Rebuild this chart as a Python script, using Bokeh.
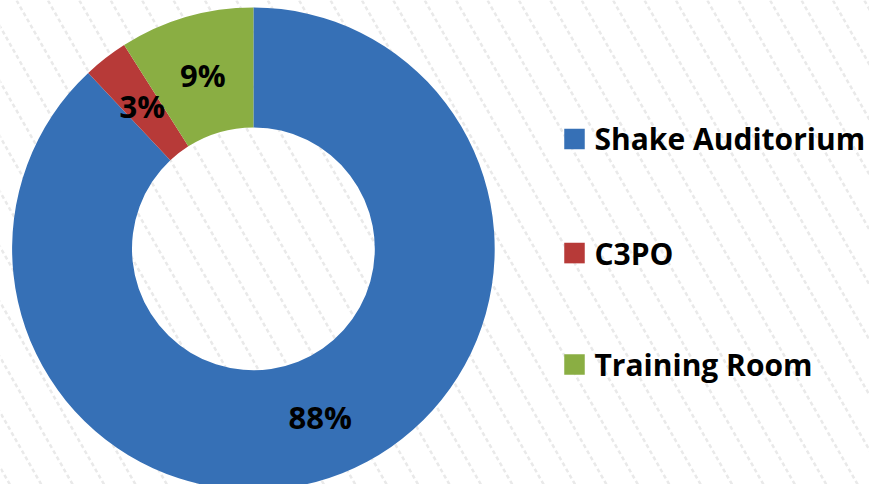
import numpy as np
from bokeh.plotting import figure
from bokeh.models import Range1d, ColumnDataSource
from bokeh.core.properties import value
from bokeh.embed import file_html
from bokeh.resources import INLINE

# ---- data ----
categories = ["Shake Auditorium", "C3PO", "Training Room"]
shares = [88, 3, 9]
labels = ["88%", "3%", "9%"]
colors = ["#3670b6", "#b73a38", "#8aae43"]

W, H = 869, 484
p = figure(width=W, height=H, output_backend="svg", toolbar_location=None,
           x_range=Range1d(0, W), y_range=Range1d(0, H), min_border=0)
p.axis.visible = False
p.grid.visible = False
p.outline_line_color = None
p.background_fill_color = "white"
p.border_fill_color = "white"

# ---- background stripes (decoration) ----
slope = 0.57
xs, ys = [], []
for x0 in np.arange(518.5 - 31.4 * 30, W + 32, 31.4):
    xs.append([x0, x0 + slope * H])
    ys.append([H, 0])
p.multi_line(xs, ys, line_color="#e9e9e9", line_width=2.5, line_dash="4 3")

# ---- donut ----
cx, cy = 252.9, 235.7
r_out, r_in = 241.3, 121.4
frac = np.array(shares, dtype=float) / sum(shares)
cum = np.concatenate([[0], np.cumsum(frac)])
ends = np.pi / 2 - 2 * np.pi * cum[:-1]
starts = np.pi / 2 - 2 * np.pi * cum[1:]
src = ColumnDataSource(dict(start=starts, end=ends, color=colors))
p.annular_wedge(x=cx, y=cy, inner_radius=r_in, outer_radius=r_out,
                start_angle="start", end_angle="end", fill_color="color",
                line_color=None, source=src)

mid = (starts + ends) / 2
r_mid = (r_in + r_out) / 2
lx = cx + r_mid * np.cos(mid)
ly = cy + r_mid * np.sin(mid)
p.text(x=lx, y=ly, text=labels, text_align="center", text_baseline="middle",
       text_font=value("Open Sans"), text_font_style="bold",
       text_font_size="31px", text_color="black")

# ---- legend (manual) ----
leg_y = [345.6, 231.4, 120]
p.scatter(x=[574] * 3, y=leg_y, marker="square", size=20.5,
          fill_color=colors, line_color=None)
p.text(x=[594] * 3, y=leg_y, text=categories, text_align="left",
       text_baseline="middle", text_font=value("Open Sans"),
       text_font_style="bold", text_font_size="30px", text_color="black")

open("out.html", "w").write(file_html(p, INLINE))
